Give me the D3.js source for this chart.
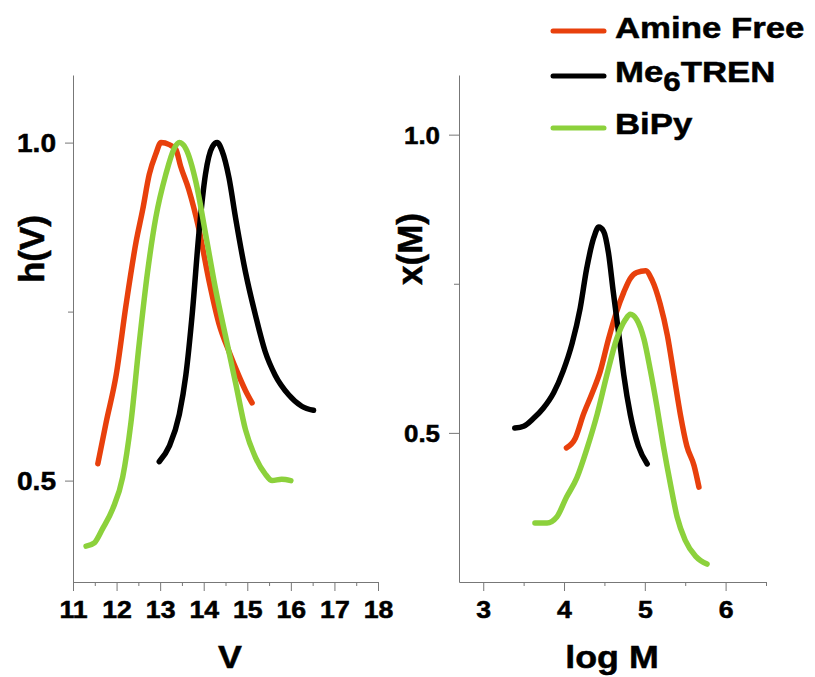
<!DOCTYPE html>
<html>
<head>
<meta charset="utf-8">
<script src="https://cdn.jsdelivr.net/npm/d3@7"></script>
<style>
  body { margin: 0; background: #fff; }
  text { font-family: "Liberation Sans", Arial, sans-serif; font-weight: bold; stroke: #000; stroke-width: 0.5px; }
</style>
</head>
<body>
<svg id="canvas" width="815" height="677"></svg>
<script>
// series names + colours
const seriesNames = ["Amine Free", "Me6TREN", "BiPy"];
const seriesColors = ["#e8400c", "#000000", "#8cd13c"];

// left panel: h(V) vs V
const amineFreeHV = [[11.57,0.525],[11.76,0.586],[11.99,0.656],[12.22,0.761],[12.45,0.854],[12.60,0.901],[12.75,0.953],[12.90,0.983],[13.02,1.0],[13.21,0.997],[13.36,0.99],[13.47,0.965],[13.66,0.93],[13.89,0.872],[14.12,0.796],[14.35,0.732],[14.58,0.691],[14.80,0.656],[14.96,0.633],[15.11,0.615]];
const me6trenHV = [[12.98,0.528],[13.21,0.551],[13.44,0.598],[13.59,0.656],[13.74,0.749],[13.89,0.866],[14.04,0.953],[14.20,0.994],[14.31,1.0],[14.42,0.988],[14.58,0.948],[14.73,0.889],[14.96,0.808],[15.19,0.744],[15.41,0.691],[15.64,0.656],[15.95,0.627],[16.25,0.610],[16.52,0.604]];
const bipyHV = [[11.30,0.403],[11.49,0.408],[11.68,0.429],[11.91,0.458],[12.14,0.505],[12.33,0.586],[12.52,0.703],[12.71,0.808],[12.90,0.889],[13.13,0.953],[13.32,0.991],[13.44,1.0],[13.59,0.991],[13.82,0.942],[14.04,0.866],[14.27,0.784],[14.50,0.714],[14.73,0.645],[14.96,0.575],[15.19,0.534],[15.41,0.510],[15.57,0.5],[15.79,0.502],[16.0,0.5]];

// right panel: x(M) vs log M
const amineFreeXM = [[4.03,0.475],[4.14,0.491],[4.24,0.531],[4.34,0.564],[4.45,0.604],[4.55,0.657],[4.65,0.703],[4.74,0.736],[4.82,0.759],[4.90,0.769],[5.01,0.772],[5.09,0.756],[5.19,0.716],[5.28,0.663],[5.36,0.597],[5.44,0.531],[5.52,0.478],[5.61,0.445],[5.67,0.409]];
const me6trenXM = [[3.39,0.508],[3.50,0.511],[3.62,0.524],[3.74,0.541],[3.87,0.567],[3.99,0.604],[4.10,0.650],[4.20,0.709],[4.28,0.775],[4.37,0.828],[4.43,0.845],[4.49,0.838],[4.55,0.802],[4.61,0.736],[4.68,0.663],[4.74,0.597],[4.82,0.531],[4.92,0.478],[5.03,0.448]];
const bipyXM = [[3.64,0.349],[3.79,0.349],[3.91,0.359],[4.03,0.392],[4.16,0.425],[4.28,0.472],[4.41,0.531],[4.53,0.597],[4.65,0.657],[4.76,0.690],[4.82,0.699],[4.90,0.690],[4.99,0.657],[5.07,0.604],[5.15,0.544],[5.23,0.478],[5.32,0.412],[5.40,0.359],[5.50,0.320],[5.63,0.293],[5.77,0.280]];

// ticks
const leftXTicks = [11, 12, 13, 14, 15, 16, 17, 18];
const leftXMinor = [11.5, 12.5, 13.5, 14.5, 15.5, 16.5, 17.5];
const rightXTicks = [3, 4, 5, 6];
const rightXMinor = [3.5, 4.5, 5.5, 6.5];
const yTicks = [0.5, 1.0];
const yMinor = [0.75];

const svg = d3.select("#canvas");
const axisColor = "#777";
const stretch = 1.16; // the original lettering is a bit wider than Arial

function drawPanel(opts) {
    const x = d3.scaleLinear().domain(opts.xDomain).range(opts.xRange);
    const y = d3.scaleLinear().domain(opts.yDomain).range([582, 75]);
    const g = svg.append("g");

    // x axis
    const xAxis = g.append("g")
        .attr("transform", `translate(0,${y.range()[0]})`)
        .call(d3.axisBottom(x).tickValues(opts.xTicks).tickSize(9).tickPadding(11).tickSizeOuter(0).tickFormat(d3.format("d")));
    g.append("g")
        .attr("transform", `translate(0,${y.range()[0]})`)
        .call(d3.axisBottom(x).tickValues(opts.xMinor).tickSize(4).tickFormat(""))
        .select(".domain").remove();
    xAxis.selectAll("text")
        .attr("font-size", 23)
        .attr("fill", "#000")
        .attr("transform", `scale(${stretch},1)`);

    // y axis
    const yAxis = g.append("g")
        .attr("transform", `translate(${opts.xRange[0]},0)`)
        .call(d3.axisLeft(y).tickValues(yTicks).tickSize(opts.yTick).tickPadding(opts.yPad).tickSizeOuter(0).tickFormat(d3.format(".1f")));
    g.append("g")
        .attr("transform", `translate(${opts.xRange[0]},0)`)
        .call(d3.axisLeft(y).tickValues(yMinor).tickSize(5).tickFormat(""))
        .select(".domain").remove();
    yAxis.selectAll("text")
        .attr("font-size", opts.yFont)
        .attr("fill", "#000")
        .attr("dy", "0.36em")
        .attr("x", -(opts.yTick + opts.yPad) / 1.08)
        .attr("transform", "scale(1.08,1)");

    g.selectAll(".domain, .tick line").attr("stroke", axisColor);

    // curves
    const line = d3.line()
        .x(d => x(d[0]))
        .y(d => y(d[1]))
        .curve(d3.curveMonotoneX);

    opts.series.forEach((s, i) => {
        g.append("path")
            .datum(s)
            .attr("d", line)
            .attr("fill", "none")
            .attr("stroke", seriesColors[i])
            .attr("stroke-width", 5.5)
            .attr("stroke-linejoin", "round")
            .attr("stroke-linecap", "round");
    });

    // axis titles
    g.append("text")
        .attr("transform", `translate(${opts.xTitleX},668) scale(1.12,1)`)
        .attr("text-anchor", "middle")
        .attr("font-size", 32)
        .text(opts.xTitle);

    g.append("text")
        .attr("transform", `translate(${opts.yTitleX},249) rotate(-90)`)
        .attr("text-anchor", "middle")
        .attr("font-size", 35)
        .text(opts.yTitle);
}

drawPanel({
    xDomain: [11, 18], xRange: [73, 378], yDomain: [0.35, 1.1],
    xTicks: leftXTicks, xMinor: leftXMinor,
    yTick: 8, yPad: 9, yFont: 26,
    series: [amineFreeHV, me6trenHV, bipyHV],
    xTitle: "V", xTitleX: 230, yTitle: "h(V)", yTitleX: 44
});

drawPanel({
    xDomain: [2.7, 6.5], xRange: [459, 766], yDomain: [0.25, 1.1],
    xTicks: rightXTicks, xMinor: rightXMinor,
    yTick: 10, yPad: 9, yFont: 24,
    series: [amineFreeXM, me6trenXM, bipyXM],
    xTitle: "log M", xTitleX: 612, yTitle: "x(M)", yTitleX: 422
});

// legend
const legendY = [31, 76, 128];
const legend = svg.append("g");
seriesNames.forEach((name, i) => {
    legend.append("line")
        .attr("x1", 553).attr("x2", 604)
        .attr("y1", legendY[i]).attr("y2", legendY[i])
        .attr("stroke", seriesColors[i])
        .attr("stroke-width", 5)
        .attr("stroke-linecap", "round");

    const t = legend.append("text")
        .attr("transform", `translate(615,${legendY[i] + 6 + (i === 0 ? 1 : 0)}) scale(${stretch},1)`)
        .attr("font-size", 30);
    if (name === "Me6TREN") {
        t.append("tspan").text("Me");
        t.append("tspan").attr("font-size", 27).attr("dy", 9).text("6");
        t.append("tspan").attr("dy", -9).text("TREN");
    } else {
        t.text(name);
    }
});
</script>
</body>
</html>
